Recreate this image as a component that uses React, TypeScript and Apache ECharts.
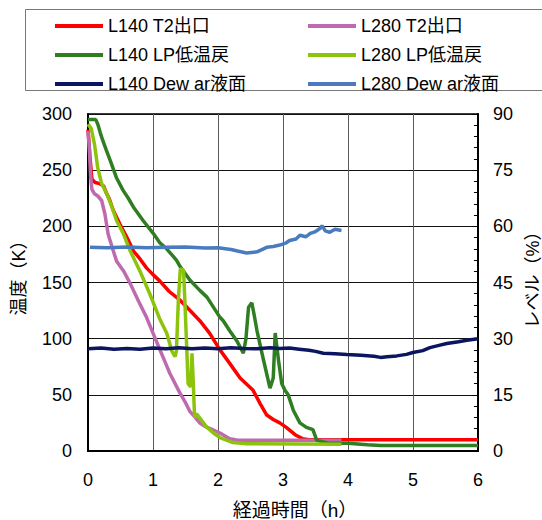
import React, { useEffect, useRef } from "react";
import * as echarts from "echarts";

const FONT = "'Liberation Sans', Arial, 'Noto Sans CJK JP', sans-serif";

const seriesNames = [
  "L140 T2出口",
  "L280 T2出口",
  "L140 LP低温戻",
  "L280 LP低温戻",
  "L140 Dew ar液面",
  "L280 Dew ar液面",
];
const seriesColors = ["#ff0000", "#bf6aae", "#2f7f22", "#8cc30c", "#0b1560", "#4a7bbf"];

const xTicks = [0, 1, 2, 3, 4, 5, 6];

// L140 T2出口 (K)
const redTime = [0, 0.03, 0.06, 0.11, 0.18, 0.24, 0.28, 0.33, 0.39, 0.49, 0.6, 0.7, 0.8, 0.9, 1.0, 1.11, 1.25, 1.42, 1.57, 1.72, 1.87, 2.03, 2.18, 2.34, 2.45, 2.54, 2.65, 2.75, 2.85, 2.95, 3.05, 3.2, 3.3, 3.4, 3.6, 4.0, 5.0, 6.0];
const redTemp = [286, 262, 242, 239, 238, 236, 230, 224, 214, 202, 190, 178, 171, 163, 157, 151, 142, 134, 125, 116, 105, 90, 78, 65, 59, 54, 42, 32, 28, 25, 21, 14, 11, 10, 10, 10, 10, 10];

// L280 T2出口 (K)
const pinkTime = [0, 0.02, 0.04, 0.06, 0.1, 0.15, 0.21, 0.26, 0.31, 0.39, 0.44, 0.55, 0.65, 0.78, 0.9, 1.0, 1.1, 1.18, 1.26, 1.34, 1.42, 1.5, 1.57, 1.65, 1.72, 1.8, 1.88, 2.03, 2.18, 2.3, 3.9];
const pinkTemp = [285, 270, 245, 233, 229, 227, 223, 211, 193, 178, 169, 160, 149, 133, 119, 105, 91, 80, 69, 60, 51, 43, 35, 30, 25, 22, 20, 16, 11, 9.5, 9.5];

// L140 LP低温戻 (K)
const greenTime = [0, 0.12, 0.15, 0.19, 0.23, 0.28, 0.34, 0.39, 0.44, 0.54, 0.62, 0.7, 0.85, 1.0, 1.11, 1.21, 1.36, 1.42, 1.57, 1.72, 1.83, 2.03, 2.08, 2.18, 2.29, 2.39, 2.43, 2.47, 2.52, 2.56, 2.6, 2.7, 2.8, 2.85, 2.88, 2.93, 2.98, 3.03, 3.08, 3.16, 3.26, 3.36, 3.46, 3.52, 3.7, 4.0, 4.2, 4.3, 4.5, 5.0, 6.0];
const greenTemp = [295, 295, 291, 283, 276, 268, 259, 251, 243, 232, 225, 217, 205, 194, 185, 180, 170, 164, 152, 143, 137, 119, 116, 107, 98, 87, 100, 128, 132, 120, 107, 81, 56, 65, 105, 81, 60, 54, 50, 36, 25, 21, 19, 9.5, 7, 7, 6, 5.5, 5, 5, 5];

// L280 LP低温戻 (K)
const limeTime = [0, 0.05, 0.1, 0.15, 0.21, 0.29, 0.37, 0.44, 0.54, 0.65, 0.8, 0.95, 1.1, 1.21, 1.29, 1.34, 1.36, 1.39, 1.42, 1.47, 1.49, 1.52, 1.54, 1.58, 1.6, 1.62, 1.64, 1.67, 1.75, 1.83, 1.93, 2.03, 2.23, 2.44, 3.9];
const limeTemp = [291, 287, 273, 252, 238, 229, 217, 205, 194, 178, 160, 140, 118, 105, 89, 84, 89, 134, 162, 161, 134, 90, 60, 57, 87, 60, 30, 33, 27, 21, 16, 12, 7.5, 6.5, 6];

// L140 Dewar液面 (%)
const navyTime = [0, 0.2, 0.4, 0.6, 0.8, 1.0, 1.2, 1.4, 1.6, 1.8, 2.0, 2.2, 2.4, 2.6, 2.8, 2.95, 3.1, 3.25, 3.4, 3.5, 3.62, 3.8, 3.98, 4.2, 4.4, 4.5, 4.6, 4.75, 4.9, 5.0, 5.15, 5.26, 5.4, 5.52, 5.7, 5.83, 6.0];
const navyLevel = [27.3, 27.5, 27.2, 27.4, 27.2, 27.5, 27.3, 27.6, 27.3, 27.5, 27.3, 27.6, 27.4, 27.3, 27.6, 27.4, 27.5, 27.2, 26.9, 26.6, 26.1, 26.0, 25.8, 25.6, 25.3, 25.0, 25.2, 25.4, 25.8, 26.3, 26.8, 27.6, 28.2, 28.7, 29.2, 29.6, 30.0];

// L280 Dewar液面 (%)
const blueTime = [0.03, 0.3, 0.6, 0.9, 1.2, 1.5, 1.8, 2.0, 2.2, 2.3, 2.44, 2.6, 2.75, 2.85, 2.95, 3.05, 3.1, 3.2, 3.26, 3.35, 3.42, 3.5, 3.57, 3.6, 3.65, 3.72, 3.8, 3.9];
const blueLevel = [54.4, 54.3, 54.5, 54.3, 54.4, 54.5, 54.2, 54.3, 53.8, 53.4, 52.9, 53.2, 54.4, 54.6, 55.0, 55.6, 56.2, 56.6, 57.6, 57.2, 58.1, 58.6, 59.4, 60.2, 58.8, 58.4, 59.2, 58.9];

const zip = (a: number[], b: number[]) => a.map((v, i) => [v, b[i]]);

export default function App() {
  const ref = useRef<HTMLDivElement>(null);
  useEffect(() => {
    if (!ref.current) return;
    const chart = echarts.init(ref.current, null, { renderer: "svg" });
    const data = [
      zip(redTime, redTemp),
      zip(pinkTime, pinkTemp),
      zip(greenTime, greenTemp),
      zip(limeTime, limeTemp),
      zip(navyTime, navyLevel),
      zip(blueTime, blueLevel),
    ];
    const legendText = { fontSize: 18, lineHeight: 16, color: "#000", fontFamily: FONT };
    const legendBase = {
      top: 17,
      orient: "vertical",
      itemWidth: 48,
      itemHeight: 4,
      itemGap: 11,
      icon: "rect",
      padding: 0,
      textStyle: legendText,
    };
    chart.setOption({
      animation: false,
      textStyle: { fontFamily: FONT, color: "#000" },
      graphic: [
        {
          type: "rect",
          shape: { x: 25.5, y: 9.5, width: 530, height: 81 },
          style: { fill: "none", stroke: "#777", lineWidth: 1 },
          silent: true,
        },
      ],
      legend: [
        { ...legendBase, left: 55, data: [seriesNames[0], seriesNames[2], seriesNames[4]] },
        { ...legendBase, left: 308, data: [seriesNames[1], seriesNames[3], seriesNames[5]] },
      ],
      grid: {
        left: 88,
        top: 114,
        right: 64,
        bottom: 69,
        outerBoundsMode: "none",
        containLabel: false,
        show: true,
        borderColor: "#000",
        borderWidth: 1.5,
        backgroundColor: "transparent",
      },
      xAxis: {
        type: "value",
        min: xTicks[0],
        max: xTicks[xTicks.length - 1],
        interval: 1,
        axisLine: { show: true, lineStyle: { color: "#000", width: 2 } },
        axisTick: { show: false },
        axisLabel: { fontSize: 18, color: "#000", margin: 20, fontFamily: FONT },
        splitLine: { show: true, lineStyle: { color: "#5a5a5a", width: 1 } },
        name: "経過時間（h）",
        nameLocation: "middle",
        nameGap: 50,
        nameTextStyle: { fontSize: 19, color: "#000", fontFamily: FONT, padding: [0, 0, 0, 24] },
      },
      yAxis: [
        {
          type: "value",
          min: 0,
          max: 300,
          interval: 50,
          position: "left",
          axisLine: { show: true, lineStyle: { color: "#000", width: 2 } },
          axisTick: { show: false },
          axisLabel: { fontSize: 18, color: "#000", margin: 16, fontFamily: FONT },
          splitLine: { show: true, lineStyle: { color: "#111", width: 1 } },
          name: "温度（K）",
          nameLocation: "middle",
          nameGap: 60,
          nameTextStyle: { fontSize: 18, color: "#000", fontFamily: FONT, padding: [0, 0, 0, 18] },
        },
        {
          type: "value",
          min: 0,
          max: 90,
          interval: 15,
          position: "right",
          axisLine: { show: true, lineStyle: { color: "#000", width: 2 } },
          axisTick: { show: true, inside: true, length: 6, lineStyle: { color: "#000", width: 1 } },
          minorTick: { show: true, splitNumber: 5, length: 4, lineStyle: { color: "#000", width: 1 } },
          axisLabel: { fontSize: 18, color: "#000", margin: 15, fontFamily: FONT },
          splitLine: { show: false },
          name: "レベル（%）",
          nameLocation: "middle",
          nameGap: 45,
          nameTextStyle: { fontSize: 18, color: "#000", fontFamily: FONT, padding: [0, 0, 0, 14] },
        },
      ],
      series: seriesNames.map((name, i) => ({
        name,
        type: "line",
        yAxisIndex: i >= 4 ? 1 : 0,
        data: data[i],
        showSymbol: false,
        symbol: "none",
        lineStyle: { color: seriesColors[i], width: 3.5 },
        itemStyle: { color: seriesColors[i] },
      })),
    });
    return () => chart.dispose();
  }, []);
  return (
    <div
      ref={ref}
      style={{ position: "absolute", left: 0, top: 0, width: 542, height: 520, background: "#fff" }}
    />
  );
}
